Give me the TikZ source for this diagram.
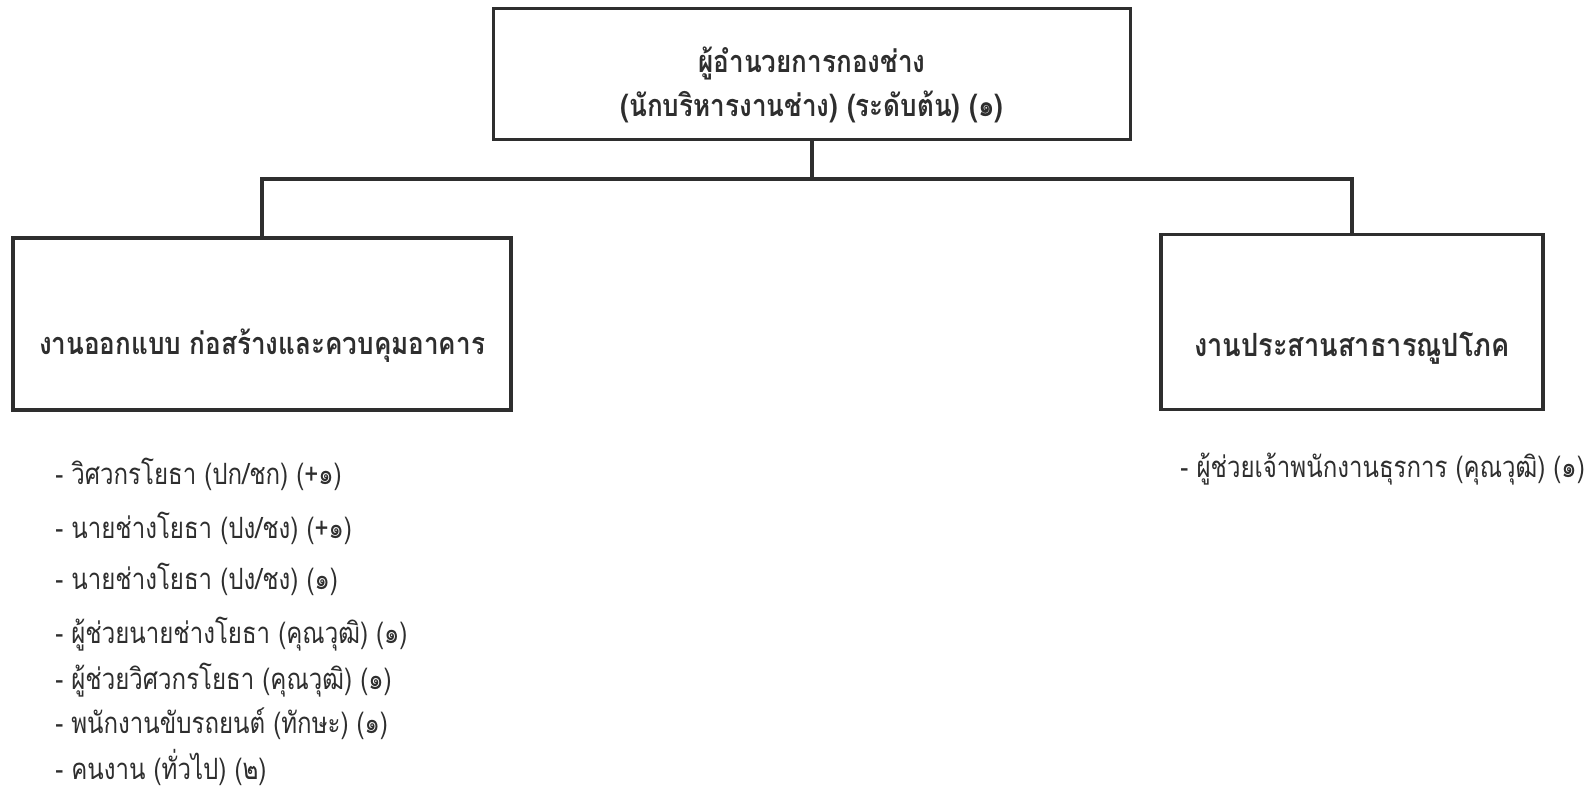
\documentclass[tikz,border=0pt]{standalone}
\usepackage{fontspec}
\setmainfont[Script=Thai]{Loma}
\newfontfamily\listfont[Script=Thai,FakeStretch=0.82]{Loma}
\newfontfamily\boxfont[Script=Thai,FakeStretch=0.85]{Loma}
\definecolor{ink}{HTML}{2E2E2E}
\begin{document}
\begin{tikzpicture}[x=0.75pt,y=-0.75pt,
  box/.style={draw=ink,line width=2.4pt,fill=white,inner sep=0pt,align=center,font=\boxfont\fontsize{23}{33}\selectfont\bfseries,text=ink},
  conn/.style={draw=ink,line width=2.4pt},
  item/.style={inner sep=0pt,font=\listfont\fontsize{22}{26}\selectfont,text=ink}]
\useasboundingbox (0,0) rectangle (1589,790);
\node[box,minimum width=637*0.75pt,minimum height=131*0.75pt] (top) at (812,74) {\raisebox{1pt}[0pt][0pt]{\begin{tabular}[t]{@{}c@{}}ผู้อำนวยการกองช่าง\\(นักบริหารงานช่าง) (ระดับต้น) (๑)\end{tabular}}};
\node[box,minimum width=498*0.75pt,minimum height=172*0.75pt] (left) at (262,324) {\raisebox{-23pt}[0pt][0pt]{งานออกแบบ ก่อสร้างและควบคุมอาคาร}};
\node[box,minimum width=382*0.75pt,minimum height=175*0.75pt,font=\boxfont\fontsize{24}{32}\selectfont\bfseries] (right) at (1352,322) {\raisebox{-26pt}[0pt][0pt]{งานประสานสาธารณูปโภค}};
\coordinate (j) at (812,179);
\draw[conn] (top.south) -- (j);
\draw[conn] (left.north) |- (j) -| (right.north);
\node[item,anchor=base west] (l1) at (55,484) {- วิศวกรโยธา (ปก/ชก) (+๑)};
\node[item,anchor=base west] (l2) at (55,538) {- นายช่างโยธา (ปง/ชง) (+๑)};
\node[item,anchor=base west] (l3) at (55,589) {- นายช่างโยธา (ปง/ชง) (๑)};
\node[item,anchor=base west] (l4) at (55,643) {- ผู้ช่วยนายช่างโยธา (คุณวุฒิ) (๑)};
\node[item,anchor=base west] (l5) at (55,689) {- ผู้ช่วยวิศวกรโยธา (คุณวุฒิ) (๑)};
\node[item,anchor=base west] (l6) at (55,733) {- พนักงานขับรถยนต์ (ทักษะ) (๑)};
\node[item,anchor=base west] (l7) at (55,779) {- คนงาน (ทั่วไป) (๒)};
\node[item,anchor=base east] (r1) at (1585,477) {- ผู้ช่วยเจ้าพนักงานธุรการ (คุณวุฒิ) (๑)};
\end{tikzpicture}
\end{document}
